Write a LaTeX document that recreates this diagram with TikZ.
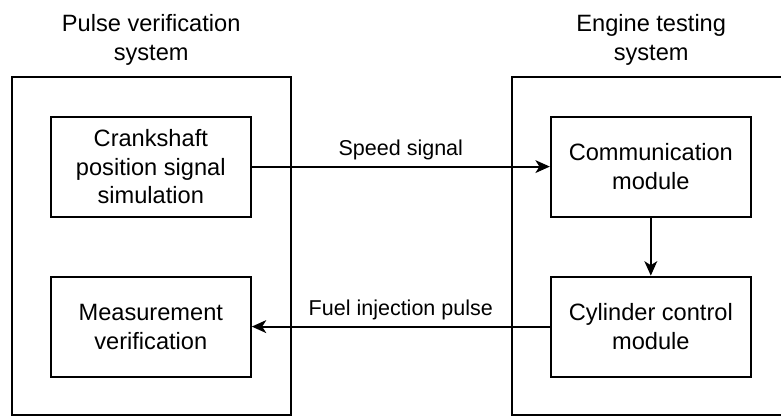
\documentclass[tikz,border=0pt]{standalone}
\usepackage{fontspec}
\setmainfont{Liberation Sans}
\usepackage{tikz}
\usetikzlibrary{positioning,arrows.meta}

\begin{document}
\begin{tikzpicture}[
  sysbox/.style={draw, line width=1.4pt, minimum width=6.98cm, minimum height=8.46cm, inner sep=0pt},
  modbox/.style={draw, line width=1.4pt, minimum width=5cm, minimum height=2.5cm, align=center, inner sep=2pt, font=\fontsize{16.8}{20.6}\selectfont},
  titlenode/.style={align=center, font=\fontsize{16.8}{20.6}\selectfont},
  sigline/.style={line width=1.4pt, -{Stealth[length=0.36cm, width=0.32cm, inset=0.1cm]}},
  lbl/.style={midway, anchor=base, yshift=0.27cm, font=\fontsize{15.3}{18}\selectfont}
]
  \useasboundingbox (0,0) rectangle (19.525,10.425);
  % the two systems
  \node[sysbox] (pvs) at (3.78,4.27) {};
  \node[sysbox] (ets) at (16.28,4.27) {};
  \node[titlenode] (pvstitle) at (3.78,9.42) {Pulse verification\\system};
  \node[titlenode] (etstitle) at (16.28,9.42) {Engine testing\\system};
  % modules
  \node[modbox] (crank) at (3.77,6.26) {Crankshaft\\position signal\\simulation};
  \node[modbox] (meas) at (3.77,2.26) {Measurement\\verification};
  \node[modbox] (comm) at (16.27,6.26) {Communication\\module};
  \node[modbox] (cyl) at (16.27,2.26) {Cylinder control\\module};
  % signals
  \draw[sigline] (crank) -- node[lbl] {Speed signal} (comm);
  \draw[sigline] (comm) -- (cyl);
  \draw[sigline] (cyl) -- node[lbl] {Fuel injection pulse} (meas);
\end{tikzpicture}
\end{document}
